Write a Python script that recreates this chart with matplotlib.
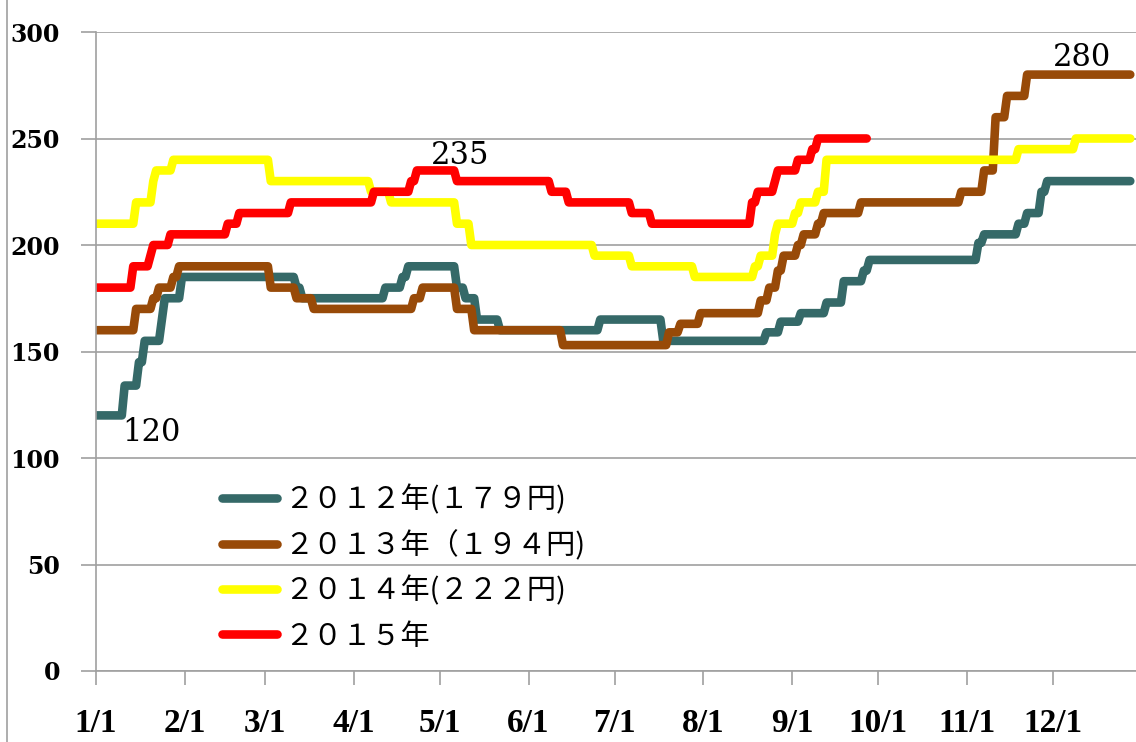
import matplotlib
matplotlib.use("Agg")
import matplotlib.pyplot as plt
from matplotlib.lines import Line2D
import pandas as pd

# price change points (month/day, value)
d2012 = ['1/1', '1/11', '1/16', '1/18', '1/24', '1/25', '1/31', '3/12', '3/14', '4/12', '4/18', '4/20',
         '5/7', '5/10', '5/14', '5/22', '6/26', '7/18', '8/23', '8/28', '9/4', '9/13', '9/19', '9/26',
         '9/28', '11/5', '11/7', '11/19', '11/22', '11/27', '11/29', '12/28']
v2012 = [120, 134, 145, 155, 165, 175, 185, 180, 175, 180, 185, 190,
         180, 175, 165, 160, 165, 155, 159, 164, 168, 173, 183, 188,
         193, 201, 205, 210, 215, 225, 230, 230]

d2013 = ['1/1', '1/15', '1/21', '1/23', '1/28', '1/30', '3/3', '3/12', '3/18', '4/22', '4/25', '5/7',
         '5/13', '6/13', '7/20', '7/24', '7/31', '8/21', '8/24', '8/27', '8/29', '9/3', '9/5', '9/10',
         '9/12', '9/25', '10/30', '11/7', '11/11', '11/15', '11/22', '12/28']
v2013 = [160, 170, 175, 180, 185, 190, 180, 175, 170, 175, 180, 170,
         160, 153, 159, 163, 168, 174, 180, 188, 195, 200, 205, 210,
         215, 220, 225, 235, 260, 270, 280, 280]

d2014 = ['1/1', '1/15', '1/21', '1/22', '1/28', '3/3', '4/7', '4/14', '5/7', '5/12', '6/24', '7/7',
         '7/29', '8/19', '8/21', '8/26', '8/27', '9/2', '9/4', '9/10', '9/13', '11/19', '12/9', '12/28']
v2014 = [210, 220, 230, 235, 240, 230, 225, 220, 210, 200, 195, 190,
         185, 190, 195, 205, 210, 215, 220, 225, 240, 245, 250, 250]

d2015 = ['1/1', '1/14', '1/20', '1/21', '1/27', '2/16', '2/20', '3/10', '4/8', '4/21', '4/23', '5/7',
         '6/9', '6/15', '7/7', '7/14', '8/18', '8/20', '8/26', '8/27', '9/3', '9/8', '9/10', '9/27']
v2015 = [180, 190, 195, 200, 205, 210, 215, 220, 225, 230, 235, 230,
         225, 220, 215, 210, 220, 225, 230, 235, 240, 245, 250, 250]

labels = ['２０１２年(１７９円)', '２０１３年（１９４円)', '２０１４年(２２２円)', '２０１５年']
colors = ['#356968', '#984a08', '#ffff00', '#ff0000']
month_ticks = ['1/1', '2/1', '3/1', '4/1', '5/1', '6/1', '7/1', '8/1', '9/1', '10/1', '11/1', '12/1']


def doy(s):
    return pd.Timestamp('2015/' + s).dayofyear - 1


def step_path(dates, vals):
    days = [doy(s) for s in dates]
    xs, ys = [days[0]], [vals[0]]
    for i in range(1, len(days)):
        if vals[i] != vals[i - 1]:
            xs += [days[i] - 1, days[i]]
            ys += [vals[i - 1], vals[i]]
        else:
            xs.append(days[i])
            ys.append(vals[i])
    return xs, ys


plt.rcParams['font.family'] = ['DejaVu Serif']
fig = plt.figure(figsize=(11.36, 7.42), dpi=100)
ax = fig.add_axes([96 / 1136, 1 - 671 / 742, 1040 / 1136, 639 / 742])

for d, v, c, lab in zip([d2012, d2013, d2014, d2015], [v2012, v2013, v2014, v2015], colors, labels):
    xs, ys = step_path(d, v)
    ax.plot(xs, ys, color=c, lw=6.2, solid_capstyle='round', solid_joinstyle='round', label=lab)

ax.set_xlim(0, 363)
ax.set_ylim(0, 300)
ax.set_yticks(range(0, 301, 50))
ax.set_xticks([doy(s) for s in month_ticks])
ax.set_xticklabels(month_ticks)
ax.yaxis.grid(True, color='#a0a0a0', lw=1.2)
ax.set_axisbelow(True)
for s in ['top', 'right']:
    ax.spines[s].set_visible(False)
for s in ['left', 'bottom']:
    ax.spines[s].set_color('#a0a0a0')
    ax.spines[s].set_linewidth(1.2)
ax.tick_params(axis='y', length=11, width=1.2, color='#a0a0a0', pad=15, labelsize=17)
ax.tick_params(axis='x', length=10, width=1.2, color='#a0a0a0', pad=17, labelsize=24)
for t in ax.get_yticklabels():
    t.set_fontweight('bold')
for t in ax.get_xticklabels():
    t.set_fontweight('bold')
    t.set_family('Liberation Serif')

ax.text(doy('1/10'), 112, '120', fontsize=22, va='center')
ax.text(doy('4/28'), 242, '235', fontsize=22, va='center')
ax.text(doy('12/1'), 288, '280', fontsize=22, va='center')

ax.legend(loc='upper left', bbox_to_anchor=(0.121, 0.291), frameon=False,
          prop={'family': ['Noto Sans CJK JP', 'DejaVu Sans'], 'size': 21},
          handlelength=1.9, handletextpad=0.25, labelspacing=0.52, borderpad=0, borderaxespad=0)

fig.add_artist(Line2D([7 / 1136, 7 / 1136], [0, 1], color='#a0a0a0', lw=1.2))

fig.savefig('out.png', dpi=100)
